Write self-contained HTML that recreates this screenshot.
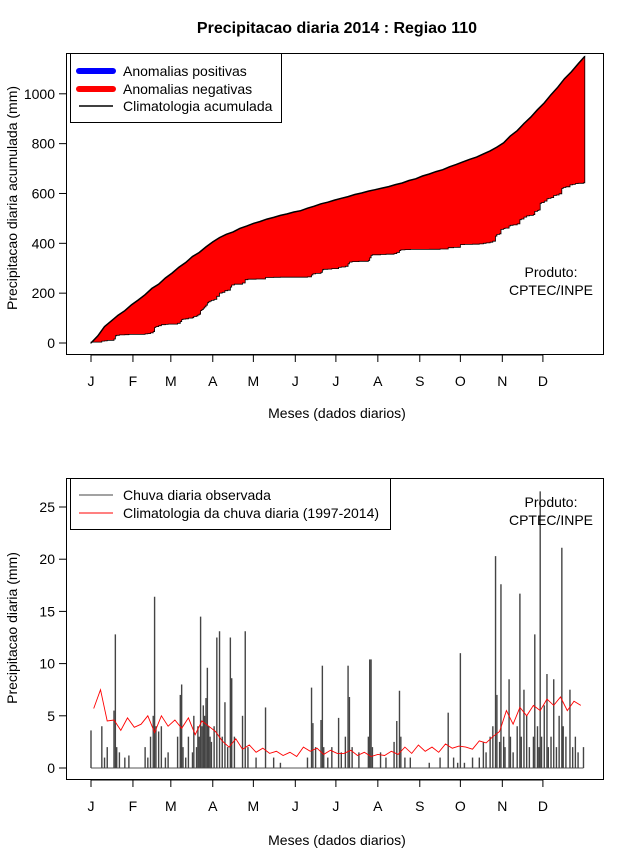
<!DOCTYPE html>
<html><head><meta charset="utf-8"><style>
body{margin:0;background:#fff}
svg text{font-family:"Liberation Sans",Arial,sans-serif;fill:#000}
</style></head><body>
<svg id="c" width="640" height="850" xmlns="http://www.w3.org/2000/svg">
<text x="337" y="33" text-anchor="middle" font-size="16" font-weight="bold">Precipitacao diaria 2014 : Regiao 110</text>
<g id="topPanel"></g>
<g id="botPanel"></g>
</svg>
<script>
// month tick labels and start days
const months = ["J","F","M","A","M","J","J","A","S","O","N","D"];
const monthStart = [0,31,59,90,120,151,181,212,243,273,304,334];
// climatology daily mean rainfall (mm/day), one value per 5-day block
const climBlocks = [5.7,7.5,4.5,4.6,3.6,4.8,3.9,
 4.2,5.0,3.4,5.0,4.0,4.6,
 3.8,4.8,3.2,4.5,4.0,3.5,
 2.6,2.0,2.8,1.8,2.2,1.5,
 1.9,1.4,1.6,1.2,1.5,1.1,
 2.0,1.6,1.9,1.3,1.7,1.4,
 1.4,1.7,1.2,1.5,1.1,1.3,
 1.2,1.6,1.3,2.0,1.4,2.2,
 1.6,2.0,1.5,2.3,1.9,2.1,
 2.0,1.8,2.6,2.4,3.0,3.5,
 5.5,4.2,5.8,5.0,6.0,5.5,
 6.6,6.0,6.8,5.5,6.4,6.0];
// observed rain days
const rainDays = [0,8,10,12,17,18,19,21,25,28,
 40,42,44,46,47,48,50,52,55,57,
 64,66,67,68,70,72,75,76,78,79,80,81,82,83,84,85,86,87,88,89,
 91,93,95,97,99,101,103,104,106,112,114,116,
 122,129,135,140,
 160,163,164,166,170,171,172,175,178,
 183,185,188,190,191,193,198,205,206,207,208,
 214,218,224,226,228,229,232,236,
 250,258,264,268,271,
 273,276,282,287,290,292,295,297,299,300,302,303,
 305,306,309,310,312,315,317,318,320,322,324,327,328,330,331,332,333,
 335,337,338,340,342,344,346,348,349,351,354,356,358,360,364];
// observed rain amounts (mm)
const rainMm = [3.6,4,1,2,5.5,12.8,2,1.5,1,1.2,
 2,1,3,5,16.4,4,3.5,4,1,1.5,
 3,7,8,2,1,3,1.5,5,2,4,3,14.5,4,6,5,6.7,9.6,4,3,2.5,
 4,12.5,13.1,3,6.3,2,12.5,8.6,3,5,13.1,2,
 1,5.8,1,0.5,
 1,7.7,4.3,2,4.6,9.8,2,1,2,
 4.8,1.5,3,9.8,6.8,2,1.5,3,10.4,10.4,2,
 1.5,1,2.5,4.5,7.4,3,1,1,
 0.5,1,5.3,1,0.5,
 11,0.5,1,1,2.5,1.5,3,4,20.3,7,2.5,17.6,
 3,2,8.5,3,1.5,4,16.7,3,7.5,5,2,3,12.8,4,2,26.5,3,
 6,9,2,3,8.5,2,5,21.1,4,3,7.5,2,3,1.5,2];
const topTicks = [0,200,400,600,800,1000];
const botTicks = [0,5,10,15,20,25];

const NS="http://www.w3.org/2000/svg";
function mk(parent,tag,attrs,txt){const e=document.createElementNS(NS,tag);for(const k in attrs)e.setAttribute(k,attrs[k]);if(txt!==undefined)e.textContent=txt;parent.appendChild(e);return e;}
const xS = d => 91 + d*1.353;
const yTop = v => 343 - v*0.2492;
const yBot = v => 768 - v*10.44;

const daily = new Array(365).fill(0);
rainDays.forEach((d,i)=>{daily[d]+=rainMm[i];});

// ---- TOP PANEL
const topG = document.getElementById('topPanel');
const climPts=[[0,0]]; let cc=0;
climBlocks.forEach((v,k)=>{cc+=v*5; climPts.push([Math.min((k+1)*5,365),cc]);});
const obsPts=[]; let co=0; obsPts.push([0,0]);
for(let d=0;d<365;d++){obsPts.push([d,co]); co+=daily[d]; obsPts.push([d,co]);}
obsPts.push([365,co]);
let pts = climPts.map(p=>xS(p[0]).toFixed(1)+","+yTop(p[1]).toFixed(1));
for(let i=obsPts.length-1;i>=0;i--) pts.push(xS(obsPts[i][0]).toFixed(1)+","+yTop(obsPts[i][1]).toFixed(1));
let el=mk(topG,'polygon',{points:pts.join(" "),fill:"#ff0000",stroke:"#000","stroke-width":"0.8"});


el=mk(topG,'polyline',{points:climPts.map(p=>xS(p[0]).toFixed(1)+","+yTop(p[1]).toFixed(1)).join(" "),fill:"none",stroke:"#000","stroke-width":"1.5"});


mk(topG,'rect',{x:66.5,y:53.5,width:537,height:301,fill:"none",stroke:"#000"});
topTicks.forEach(t=>{const y=yTop(t);mk(topG,'line',{x1:59,x2:66,y1:y,y2:y,stroke:"#000"});
 const l=mk(topG,'text',{x:55,y:y+5,"text-anchor":"end","font-size":"14"},String(t));
 
 });
mk(topG,'line',{x1:xS(0),x2:xS(334),y1:355,y2:355,stroke:"#000"});
months.forEach((m,i)=>{const x=xS(monthStart[i]);mk(topG,'line',{x1:x,x2:x,y1:355,y2:362,stroke:"#000"});
 const l=mk(topG,'text',{x:x,y:386,"text-anchor":"middle","font-size":"14"},m);
 
 });
el=mk(topG,'text',{x:337,y:418,"text-anchor":"middle","font-size":"14"},"Meses (dados diarios)");

el=mk(topG,'text',{x:17,y:198,"text-anchor":"middle","font-size":"14",transform:"rotate(-90 17 198)"},"Precipitacao diaria acumulada (mm)");

mk(topG,'text',{x:551,y:277,"text-anchor":"middle","font-size":"14"},"Produto:");
el=mk(topG,'text',{x:551,y:295,"text-anchor":"middle","font-size":"14"},"CPTEC/INPE");

const lg=mk(topG,'g',{});


mk(lg,'rect',{x:70.5,y:53.5,width:211,height:69,fill:"#fff",stroke:"#000"});
mk(lg,'line',{x1:79,x2:113,y1:71,y2:71,stroke:"#0000ff","stroke-width":"6","stroke-linecap":"round"});
mk(lg,'text',{x:123,y:76,"font-size":"14"},"Anomalias positivas");
mk(lg,'line',{x1:79,x2:113,y1:89,y2:89,stroke:"#ff0000","stroke-width":"6","stroke-linecap":"round"});
mk(lg,'text',{x:123,y:94,"font-size":"14"},"Anomalias negativas");
mk(lg,'line',{x1:79,x2:113,y1:106,y2:106,stroke:"#000","stroke-width":"1.5"});
mk(lg,'text',{x:123,y:111,"font-size":"14"},"Climatologia acumulada");

// ---- BOTTOM PANEL
const botG=document.getElementById('botPanel');
mk(botG,'line',{x1:xS(0),x2:xS(364),y1:yBot(0),y2:yBot(0),stroke:"#555","stroke-width":"1"});
rainDays.forEach((d,i)=>{const b=mk(botG,'line',{x1:xS(d),x2:xS(d),y1:yBot(0),y2:yBot(rainMm[i]),stroke:"#444","stroke-width":"1.4"});
 
 });
el=mk(botG,'polyline',{points:climBlocks.map((v,k)=>xS(k*5+2).toFixed(1)+","+yBot(v).toFixed(1)).join(" "),fill:"none",stroke:"#ff0000","stroke-width":"0.9"});


mk(botG,'rect',{x:66.5,y:478.5,width:537,height:301,fill:"none",stroke:"#000"});
botTicks.forEach(t=>{const y=yBot(t);mk(botG,'line',{x1:59,x2:66,y1:y,y2:y,stroke:"#000"});
 const l=mk(botG,'text',{x:55,y:y+5,"text-anchor":"end","font-size":"14"},String(t));
 
 });
mk(botG,'line',{x1:xS(0),x2:xS(334),y1:780,y2:780,stroke:"#000"});
months.forEach((m,i)=>{const x=xS(monthStart[i]);mk(botG,'line',{x1:x,x2:x,y1:780,y2:787,stroke:"#000"});
 const l=mk(botG,'text',{x:x,y:811,"text-anchor":"middle","font-size":"14"},m);
 
 });
el=mk(botG,'text',{x:337,y:845,"text-anchor":"middle","font-size":"14"},"Meses (dados diarios)");

el=mk(botG,'text',{x:17,y:628,"text-anchor":"middle","font-size":"14",transform:"rotate(-90 17 628)"},"Precipitacao diaria (mm)");

mk(botG,'text',{x:551,y:507,"text-anchor":"middle","font-size":"14"},"Produto:");
el=mk(botG,'text',{x:551,y:525,"text-anchor":"middle","font-size":"14"},"CPTEC/INPE");

const lg2=mk(botG,'g',{});


mk(lg2,'rect',{x:70.5,y:478.5,width:320,height:51,fill:"#fff",stroke:"#000"});
mk(lg2,'line',{x1:79,x2:113,y1:495,y2:495,stroke:"#444","stroke-width":"1"});
mk(lg2,'text',{x:123,y:500,"font-size":"14"},"Chuva diaria observada");
mk(lg2,'line',{x1:79,x2:113,y1:513,y2:513,stroke:"#ff0000","stroke-width":"1"});
mk(lg2,'text',{x:123,y:518,"font-size":"14"},"Climatologia da chuva diaria (1997-2014)");
</script>
</body></html>
